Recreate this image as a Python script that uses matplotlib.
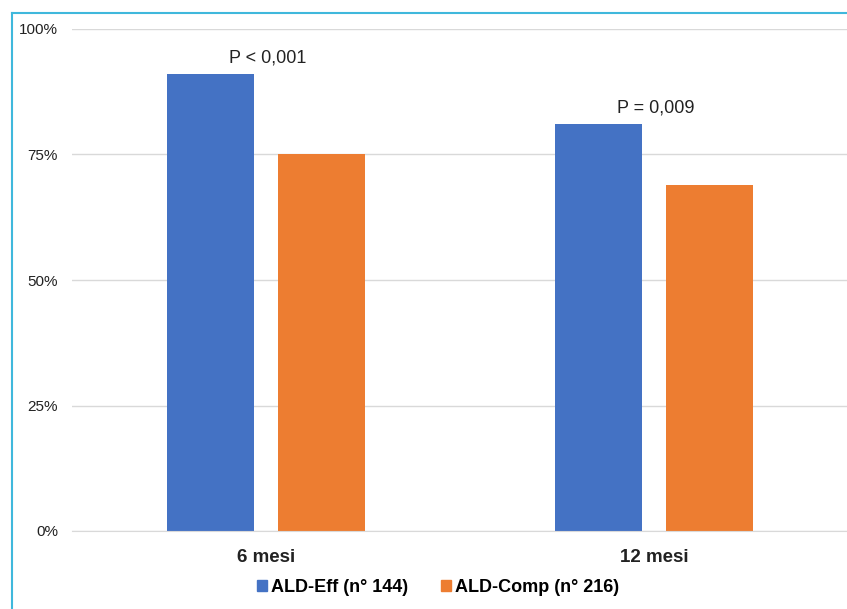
import matplotlib.pyplot as plt
from matplotlib.lines import Line2D
from matplotlib.patches import Patch
import numpy as np

categories = ["6 mesi", "12 mesi"]
series_names = ["ALD-Eff (n° 144)", "ALD-Comp (n° 216)"]
ald_eff = [91, 81]
ald_comp = [75, 69]
p_labels = ["P < 0,001", "P = 0,009"]
y_ticks = [0, 25, 50, 75, 100]

plt.rcParams['font.family'] = ['Liberation Sans', 'DejaVu Sans']

blue = '#4472C4'
orange = '#ED7D31'

fig = plt.figure(figsize=(8.47, 6.09), dpi=100)
ax = fig.add_axes([72 / 847, 78 / 609, 776 / 847, 502 / 609])

x = np.arange(len(categories))
width = 0.224
offset = 0.143
ax.bar(x - offset, ald_eff, width, color=blue, zorder=3)
ax.bar(x + offset, ald_comp, width, color=orange, zorder=3)

# p-value labels above each group
for xi, top, label in zip(x, ald_eff, p_labels):
    ax.text(xi + 0.005, top + 2.3, label, ha='center', va='baseline', fontsize=13, color='#222222')

ax.set_xlim(-0.5, 1.5)
ax.set_ylim(0, 100)
ax.set_yticks(y_ticks)
ax.set_yticklabels([f"{t}%" for t in y_ticks], fontsize=11, color='#222222')
ax.set_xticks(x)
ax.set_xticklabels(categories, fontsize=13.5, fontweight='bold', color='#222222')
ax.tick_params(axis='y', length=0, pad=10)
ax.tick_params(axis='x', length=0, pad=13)
ax.grid(axis='y', color='#d9d9d9', linewidth=1, zorder=0)
for side in ['top', 'right', 'left']:
    ax.spines[side].set_visible(False)
ax.spines['bottom'].set_color('#d9d9d9')
ax.spines['bottom'].set_zorder(4)

handles = [Patch(color=blue), Patch(color=orange)]
fig.legend(handles, series_names, loc='center', bbox_to_anchor=(438 / 847, 1 - 587 / 609),
           ncol=2, frameon=False, handlelength=0.55, handleheight=0.55, handletextpad=0.25,
           columnspacing=1.8, prop={'weight': 'bold', 'size': 13})

# outer frame (left and top)
border = '#3fb8dc'
fig.add_artist(Line2D([11.5 / 847, 11.5 / 847], [0, 1 - 12.5 / 609], color=border, linewidth=1.5))
fig.add_artist(Line2D([11.5 / 847, 1], [1 - 12.5 / 609, 1 - 12.5 / 609], color=border, linewidth=1.5))

fig.savefig('out.png', dpi=100)
